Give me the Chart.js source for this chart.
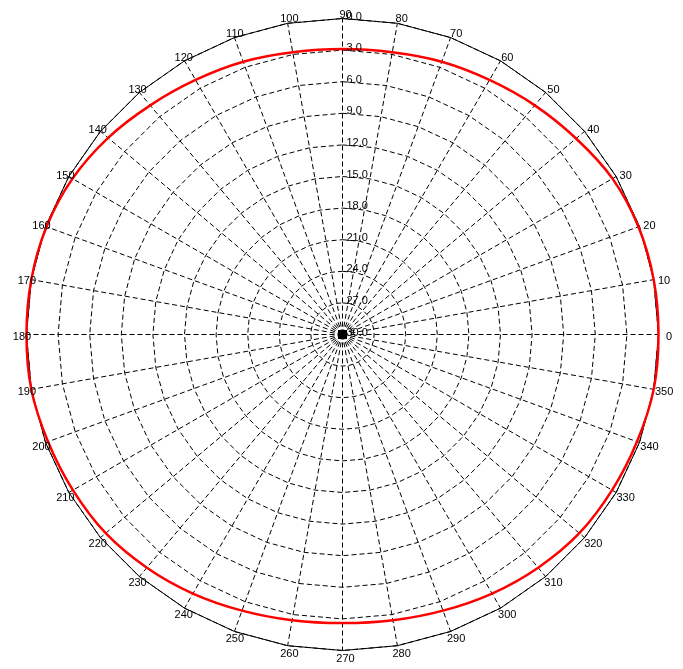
<!DOCTYPE html>
<html>
<head>
<meta charset="utf-8">
<script src="https://cdn.jsdelivr.net/npm/chart.js@4.4.1/dist/chart.umd.min.js"></script>
<style>
  html, body { margin: 0; padding: 0; background: #fff; }
  canvas { display: block; }
</style>
</head>
<body>
<canvas id="polar" width="683" height="669"></canvas>
<script>
// angles in degrees, counter-clockwise from the right (0 = east)
const angles = [0, 10, 20, 30, 40, 50, 60, 70, 80, 90, 100, 110, 120, 130, 140, 150, 160, 170,
                180, 190, 200, 210, 220, 230, 240, 250, 260, 270, 280, 290, 300, 310, 320, 330, 340, 350];
// attenuation in dB below the maximum
const attenuation = [0.0, 0.0, 0.1, 0.4, 1.05, 1.6, 2.1, 2.45, 2.8, 2.9, 2.8, 2.45, 2.1, 1.6, 0.95, 0.4, 0.1, 0.0,
                     0.0, 0.0, 0.25, 0.45, 0.65, 1.1, 1.6, 2.1, 2.45, 2.6, 2.45, 2.1, 1.6, 1.1, 0.65, 0.45, 0.25, 0.0];
const ringValues = [0, 3, 6, 9, 12, 15, 18, 21, 24, 27, 30];
const ringLabels = ['0.0', '3.0', '6.0', '9.0', '12.0', '15.0', '18.0', '21.0', '24.0', '27.0', '30.0'];

// Chart.js radar goes clockwise from the top, so reorder: 90, 80, ..., 0, 350, ..., 100
const order = angles.map((a, i) => (450 - i * 10) % 360);
const chartLabels = order.map(a => String(a));
const chartData = order.map(a => attenuation[angles.indexOf(a)]);

const FONT = '11px "Liberation Sans", Arial, sans-serif';

const polarDecor = {
  id: 'polarDecor',
  beforeDraw(chart) {
    chart.ctx.save();
    chart.ctx.translate(0.5, 0.5);
  },
  beforeDatasetsDraw(chart) {
    const r = chart.scales.r;
    const ctx = chart.ctx;
    ctx.save();
    // solid rim at 0 dB
    ctx.strokeStyle = '#000';
    ctx.lineWidth = 1;
    ctx.setLineDash([]);
    ctx.beginPath();
    for (let i = 0; i < chartLabels.length; i++) {
      const p = r.getPointPosition(i, r.drawingArea);
      if (i === 0) ctx.moveTo(p.x, p.y); else ctx.lineTo(p.x, p.y);
    }
    ctx.closePath();
    ctx.stroke();
    ctx.fillStyle = '#000';
    ctx.fillRect(r.xCenter - 4.5, r.yCenter - 4.5, 9, 9);
    ctx.restore();
  },
  afterDraw(chart) {
    const r = chart.scales.r;
    const ctx = chart.ctx;
    ctx.save();
    ctx.fillStyle = '#000';
    ctx.font = FONT;
    ctx.textBaseline = 'middle';

    // ring values along the 90 degree spoke
    ctx.textAlign = 'left';
    ringValues.forEach((v, i) => {
      const d = r.getDistanceFromCenterForValue(v);
      ctx.fillText(ringLabels[i], r.xCenter + 4, r.yCenter - d - 2);
    });

    // angle labels round the rim
    ctx.textAlign = 'center';
    const R = r.drawingArea;
    chartLabels.forEach((lab, i) => {
      const p = r.getPointPosition(i, R);
      const c = (p.x - r.xCenter) / R;
      const s = -(p.y - r.yCenter) / R;
      ctx.fillText(lab, p.x + 3 + 7.5 * c, p.y + 2 - 6 * s);
    });
    ctx.restore();
    ctx.restore();
  }
};

new Chart(document.getElementById('polar'), {
  type: 'radar',
  data: {
    labels: chartLabels,
    datasets: [{
      label: 'Pattern',
      data: chartData,
      borderColor: '#ff0000',
      borderWidth: 2.5,
      pointRadius: 0,
      pointHoverRadius: 0,
      fill: false,
      tension: 0.335
    }]
  },
  options: {
    responsive: false,
    animation: false,
    layout: { padding: { left: 26, right: 25, top: 18, bottom: 19 } },
    plugins: {
      legend: { display: false },
      tooltip: { enabled: false }
    },
    scales: {
      r: {
        min: 0,
        max: 30,
        reverse: true,
        ticks: { display: false, stepSize: 3 },
        pointLabels: { display: false },
        grid: { color: '#000', lineWidth: 1, circular: false },
        border: { dash: [5, 3] },
        angleLines: { display: true, color: '#000', lineWidth: 1, borderDash: [5, 3] }
      }
    }
  },
  plugins: [polarDecor]
});
</script>
</body>
</html>
